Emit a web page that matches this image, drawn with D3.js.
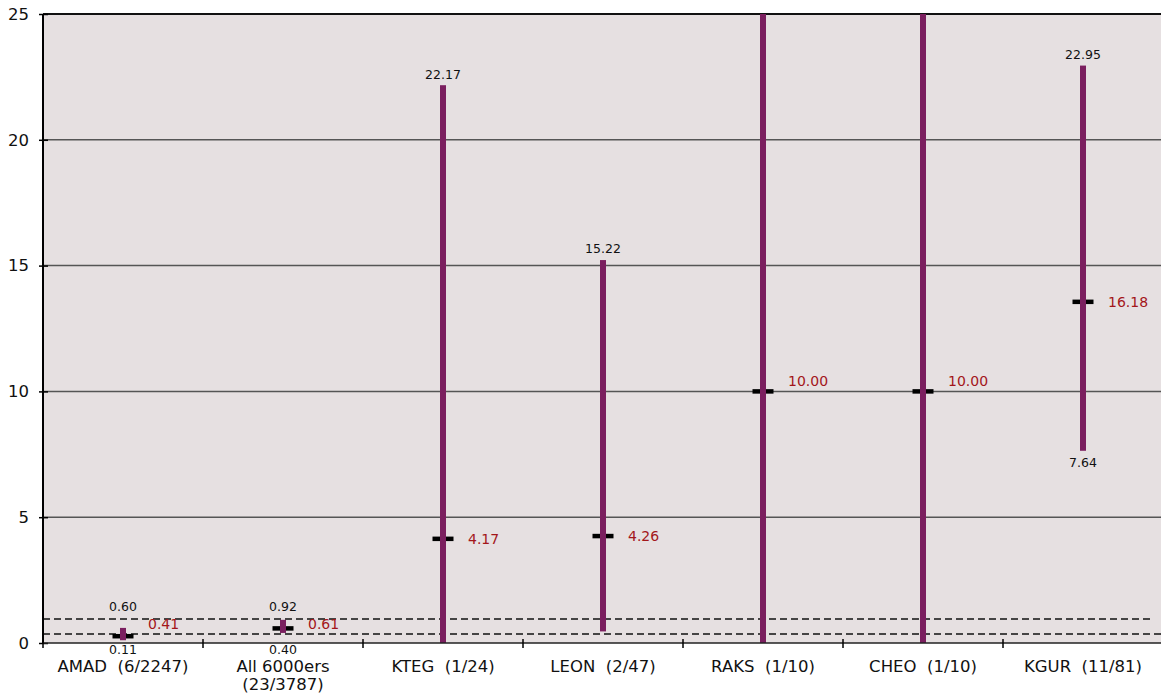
<!DOCTYPE html>
<html><head><meta charset="utf-8">
<script src="https://cdn.jsdelivr.net/npm/d3@7"></script>
<style>
html,body{margin:0;padding:0;background:#fff;}
svg{display:block;font-family:"DejaVu Sans",Verdana,sans-serif;}
</style></head>
<body><svg id="c" width="1161" height="696"></svg>
<script>
const categories = ["AMAD  (6/2247)", "All 6000ers\n(23/3787)", "KTEG  (1/24)", "LEON  (2/47)", "RAKS  (1/10)", "CHEO  (1/10)", "KGUR  (11/81)"];
const lowValues = [0.11, 0.40, 0, 0.46, 0, 0, 7.64];
const highValues = [0.60, 0.92, 22.17, 15.22, 40, 40, 22.95];
const pointValues = [0.27, 0.58, 4.14, 4.25, 10, 10, 13.56];
const pointLabels = ["0.41", "0.61", "4.17", "4.26", "10.00", "10.00", "16.18"];
const highLabels = ["0.60", "0.92", "22.17", "15.22", null, null, "22.95"];
const lowLabels = ["0.11", "0.40", null, null, null, null, "7.64"];
const refLines = [0.95, 0.36];
const yTicks = [0, 5, 10, 15, 20, 25];

const svg = d3.select("#c");
const L = 43, T = 14, B = 643, R = 1163;
const x = d3.scaleBand().domain(categories).range([L, R]).padding(0);
const y = d3.scaleLinear().domain([0, 25]).range([B, T]);
const cx = c => x(c) + x.bandwidth() / 2;

svg.append("rect").attr("x", L).attr("y", T).attr("width", R - L).attr("height", B - T).attr("fill", "#e6e0e1");

// gridlines
svg.append("g").selectAll("line").data(yTicks.filter(v => v > 0 && v < 25)).join("line")
  .attr("x1", L).attr("x2", R).attr("y1", d => y(d)).attr("y2", d => y(d))
  .attr("stroke", "#555").attr("stroke-width", 1.5);
svg.append("line").attr("x1", L).attr("x2", R).attr("y1", y(25)).attr("y2", y(25)).attr("stroke", "#111").attr("stroke-width", 2);

// reference dashed lines
svg.append("g").selectAll("line").data(refLines).join("line")
  .attr("x1", L).attr("x2", (d, i) => i === 0 ? 1150 : R).attr("y1", d => y(d)).attr("y2", d => y(d))
  .attr("stroke", "#111").attr("stroke-width", 1.5).attr("stroke-dasharray", "7,4");

svg.append("clipPath").attr("id", "pc").append("rect").attr("x", L).attr("y", T).attr("width", R - L).attr("height", B - T);
const data = categories.map((c, i) => ({c, lo: lowValues[i], hi: highValues[i], p: pointValues[i], pl: pointLabels[i], hl: highLabels[i], ll: lowLabels[i]}));

const g = svg.append("g").attr("clip-path", "url(#pc)");
// markers
g.selectAll("rect.m").data(data).join("rect").attr("class", "m")
  .attr("x", d => cx(d.c) - 10.5).attr("y", d => y(d.p) - 2.25).attr("width", 21).attr("height", 4.5).attr("fill", "#000");
// bars
g.selectAll("rect.b").data(data).join("rect").attr("class", "b")
  .attr("x", d => cx(d.c) - 3).attr("y", d => y(Math.min(d.hi, 26)))
  .attr("width", 6).attr("height", d => y(d.lo) - y(Math.min(d.hi, 26)))
  .attr("fill", "#7b1f5f");

// axes
const yAxis = svg.append("g").attr("transform", `translate(${L},0)`)
  .call(d3.axisLeft(y).tickValues(yTicks).tickSize(4).tickFormat(d3.format("d")));
yAxis.select(".domain").remove();
yAxis.selectAll(".tick line").attr("x2", 5).attr("x1", -4).attr("stroke", "#000").attr("stroke-width", 1.5);
yAxis.selectAll(".tick text").attr("x", -14).attr("font-size", 16.5).attr("fill", "#111").attr("font-family", "DejaVu Sans, sans-serif");
svg.append("line").attr("x1", L).attr("x2", L).attr("y1", T).attr("y2", B + 1).attr("stroke", "#000").attr("stroke-width", 2);

svg.append("line").attr("x1", L).attr("x2", R).attr("y1", B).attr("y2", B).attr("stroke", "#222").attr("stroke-width", 1.5);
svg.append("g").selectAll("line").data(categories.map(c => x(c)).concat([R])).join("line")
  .attr("x1", d => d).attr("x2", d => d).attr("y1", B - 4).attr("y2", B + 5).attr("stroke", "#000").attr("stroke-width", 1.5);

// category labels
svg.append("g").selectAll("text").data(categories).join("text")
  .attr("x", d => cx(d)).attr("y", 672).attr("text-anchor", "middle").attr("font-size", 16.5).attr("fill", "#111")
  .style("white-space", "pre")
  .each(function(d) {
    const lines = d.split("\n");
    d3.select(this).selectAll("tspan").data(lines).join("tspan")
      .attr("x", cx(d)).attr("dy", (l, i) => i === 0 ? 0 : 18).text(l => l);
  });

// value labels
const refYs = yTicks.filter(v => v > 0 && v < 25).concat(refLines).map(v => y(v));
function avoid(cy) {
  for (const ly of refYs) if (Math.abs(cy - ly) < 7) return ly - 10;
  return cy;
}
svg.append("g").selectAll("text").data(data.filter(d => d.hl)).join("text")
  .attr("x", d => cx(d.c)).attr("y", d => d.hi < 1 ? y(refLines[0]) - 12 : y(d.hi) - 11)
  .attr("dy", "0.35em").attr("text-anchor", "middle").attr("font-size", 12.5).attr("fill", "#111").text(d => d.hl);
svg.append("g").selectAll("text").data(data.filter(d => d.ll)).join("text")
  .attr("x", d => cx(d.c)).attr("y", d => d.lo < 1 ? y(0) + 7 : y(d.lo) + 12)
  .attr("dy", "0.35em").attr("text-anchor", "middle").attr("font-size", 12.5).attr("fill", "#111").text(d => d.ll);
svg.append("g").selectAll("text").data(data).join("text")
  .attr("x", d => cx(d.c) + 25).attr("y", d => avoid(y(d.p)))
  .attr("dy", "0.35em").attr("font-size", 14).attr("fill", "#a3161a").text(d => d.pl);
</script></body></html>
